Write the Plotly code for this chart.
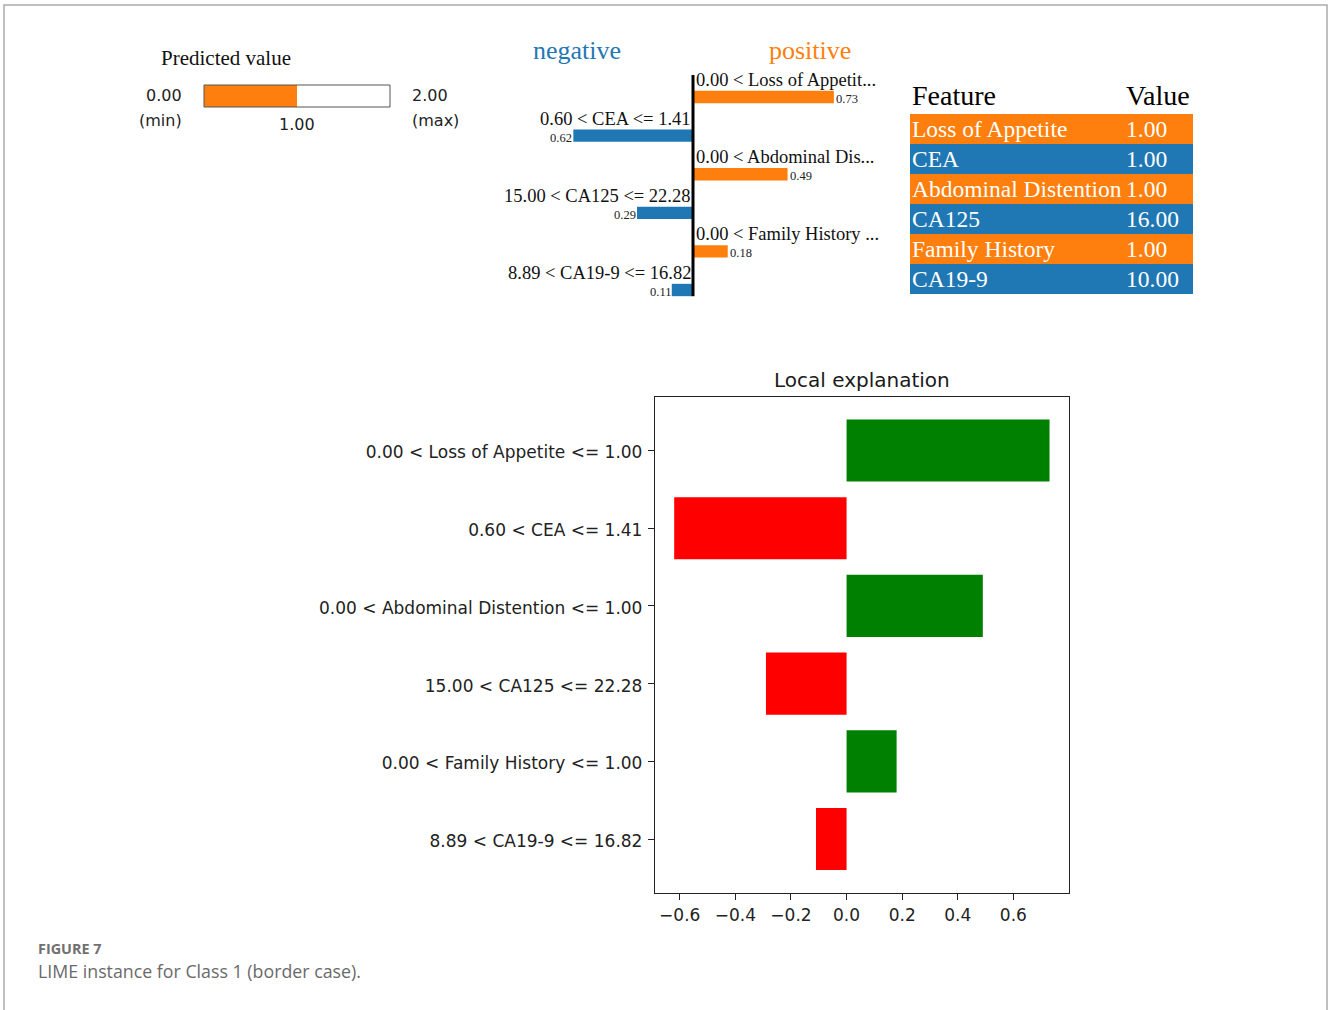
import plotly.graph_objects as go

# ---- data -------------------------------------------------------------
conditions = [
    "0.00 < Loss of Appetite <= 1.00",
    "0.60 < CEA <= 1.41",
    "0.00 < Abdominal Distention <= 1.00",
    "15.00 < CA125 <= 22.28",
    "0.00 < Family History <= 1.00",
    "8.89 < CA19-9 <= 16.82",
]
short_conditions = [
    "0.00 < Loss of Appetit...",
    "0.60 < CEA <= 1.41",
    "0.00 < Abdominal Dis...",
    "15.00 < CA125 <= 22.28",
    "0.00 < Family History ...",
    "8.89 < CA19-9 <= 16.82",
]
weights = [0.73, -0.62, 0.49, -0.29, 0.18, -0.11]

feature_names = ["Loss of Appetite", "CEA", "Abdominal Distention",
                 "CA125", "Family History", "CA19-9"]
feature_values = ["1.00", "1.00", "1.00", "16.00", "1.00", "10.00"]
table_header = ["Feature", "Value"]

pred_min, pred_max, pred_value = 0.0, 2.0, 1.0
main_ticks = [-0.6, -0.4, -0.2, 0.0, 0.2, 0.4, 0.6]

# ---- page geometry helpers ---------------------------------------------
W, H = 1328, 1010


def px_x(x):
    return x / W


def px_y(y):
    return 1 - y / H


ORANGE = "#ff7f0e"
BLUE = "#1f77b4"
SERIF = "Liberation Serif"
SANS = "DejaVu Sans"

fig = go.Figure()
idx = list(range(len(conditions)))

# ---- main "Local explanation" chart ------------------------------------
fig.add_trace(go.Bar(
    x=weights, y=idx, orientation="h", width=0.8,
    marker=dict(color=["#008000" if w > 0 else "#ff0000" for w in weights],
                line=dict(width=0)),
    xaxis="x", yaxis="y", showlegend=False, hoverinfo="skip",
))

# ---- LIME contribution bars (top middle) -------------------------------
fig.add_trace(go.Bar(
    x=weights, y=idx, orientation="h", width=0.32,
    marker=dict(color=[ORANGE if w > 0 else BLUE for w in weights],
                line=dict(width=0)),
    xaxis="x2", yaxis="y2", showlegend=False, hoverinfo="skip",
))

# ---- predicted value gauge ---------------------------------------------
fig.add_trace(go.Bar(
    x=[pred_value - pred_min], y=[0], base=[pred_min], orientation="h", width=1,
    marker=dict(color=ORANGE, line=dict(width=0)),
    xaxis="x3", yaxis="y3", showlegend=False, hoverinfo="skip",
))

# ---- feature / value table: one full-width band per row ----------------
row_colors = [ORANGE if w > 0 else BLUE for w in weights]
fig.add_trace(go.Bar(
    x=[1] * len(feature_names), y=idx, orientation="h", width=1,
    marker=dict(color=row_colors, line=dict(width=0)),
    xaxis="x4", yaxis="y4", showlegend=False, hoverinfo="skip",
))

annotations = []
shapes = []

VALUE_COL = 0.757  # left edge of the value column, as a share of table width
cell_font = dict(family=SERIF, size=23.5, color="white")
for i, (name, val) in enumerate(zip(feature_names, feature_values)):
    annotations.append(dict(text=name, x=0, y=i, xref="x4", yref="y4",
                            showarrow=False, xanchor="left", yanchor="middle",
                            font=cell_font))
    annotations.append(dict(text=val, x=VALUE_COL, y=i, xref="x4", yref="y4",
                            showarrow=False, xanchor="left", yanchor="middle",
                            font=cell_font))
for head, hx in zip(table_header, [910, 910 + VALUE_COL * 283]):
    annotations.append(dict(text=head, x=px_x(hx), y=px_y(96), xref="paper",
                            yref="paper", showarrow=False, xanchor="left",
                            yanchor="middle",
                            font=dict(family=SERIF, size=28, color="black")))

# main chart title
annotations.append(dict(text="Local explanation", x=px_x(862), y=px_y(380),
                        xref="paper", yref="paper", showarrow=False,
                        xanchor="center", yanchor="middle",
                        font=dict(family=SANS, size=20, color="#1a1a1a")))

# LIME bar labels
for i, (lab, w) in enumerate(zip(short_conditions, weights)):
    pos = w > 0
    annotations.append(dict(
        text=lab, x=0, y=i, xref="x2", yref="y2", showarrow=False,
        xanchor="left" if pos else "right", yanchor="middle",
        xshift=1 if pos else 0, yshift=17,
        font=dict(family=SERIF, size=18.5, color="#111"),
    ))
    annotations.append(dict(
        text=f"{abs(w):.2f}", x=w, y=i, xref="x2", yref="y2", showarrow=False,
        xanchor="left" if pos else "right", yanchor="middle",
        xshift=0 if pos else 1, yshift=-2,
        font=dict(family=SERIF, size=12.5, color="#222"),
    ))

annotations.append(dict(text="negative", x=px_x(577), y=px_y(50), xref="paper",
                        yref="paper", showarrow=False, xanchor="center",
                        yanchor="middle", font=dict(family=SERIF, size=26, color=BLUE)))
annotations.append(dict(text="positive", x=px_x(810), y=px_y(50), xref="paper",
                        yref="paper", showarrow=False, xanchor="center",
                        yanchor="middle", font=dict(family=SERIF, size=26, color=ORANGE)))

# LIME centre axis
shapes.append(dict(type="line", xref="x2", yref="y2", x0=0, x1=0,
                   y0=-0.57, y1=5.16, line=dict(color="black", width=3)))

# predicted value gauge labels and frame
annotations.append(dict(text="Predicted value", x=px_x(226), y=px_y(58),
                        xref="paper", yref="paper", showarrow=False,
                        xanchor="center", yanchor="middle",
                        font=dict(family=SERIF, size=21, color="#111")))
gauge_font = dict(family=SANS, size=16, color="#222")
for txt, x, y, anchor in [
    (f"{pred_min:.2f}", 184, 96, "right"),
    ("(min)", 184, 120, "right"),
    (f"{pred_max:.2f}", 410, 96, "left"),
    ("(max)", 410, 120, "left"),
]:
    annotations.append(dict(text=txt, x=px_x(x), y=px_y(y), xref="paper",
                            yref="paper", showarrow=False, xanchor=anchor,
                            yanchor="middle", font=gauge_font))
annotations.append(dict(text=f"{pred_value:.2f}", x=pred_value, y=px_y(124),
                        xref="x3", yref="paper", showarrow=False,
                        xanchor="center", yanchor="middle", font=gauge_font))
shapes.append(dict(type="rect", xref="x3 domain", yref="y3 domain",
                   x0=0, x1=1, y0=0, y1=1, line=dict(color="#555", width=1)))

# caption
annotations.append(dict(text="<b>FIGURE 7</b>", x=px_x(36), y=px_y(948),
                        xref="paper", yref="paper", showarrow=False,
                        xanchor="left", yanchor="middle",
                        font=dict(family="Open Sans", size=14.4, color="#707070")))
annotations.append(dict(text="LIME instance for Class 1 (border case).",
                        x=px_x(36), y=px_y(971), xref="paper", yref="paper",
                        showarrow=False, xanchor="left", yanchor="middle",
                        font=dict(family="Open Sans", size=17.8, color="#6a6a6a")))

# page frame
shapes.append(dict(type="rect", xref="paper", yref="paper",
                   x0=px_x(4), x1=px_x(1327), y0=-0.02, y1=px_y(5),
                   line=dict(color="#aaaaaa", width=1.5)))

axis_font = dict(family=SANS, size=17, color="#222")
fig.update_layout(
    width=W, height=H, autosize=False,
    margin=dict(l=0, r=0, t=0, b=0),
    paper_bgcolor="white", plot_bgcolor="white",
    annotations=annotations, shapes=shapes,
    xaxis=dict(domain=[px_x(655), px_x(1069)], range=[-0.689, 0.800],
               anchor="y", tickvals=main_ticks,
               ticktext=[f"{t:.1f}".replace("-", "\u2212") for t in main_ticks],
               ticks="outside", ticklen=6, tickcolor="#222", tickwidth=1,
               showline=True, linecolor="#222", linewidth=1.3, mirror=True,
               showgrid=False, zeroline=False, tickfont=axis_font),
    yaxis=dict(domain=[px_y(893), px_y(397)], range=[5.695, -0.689],
               anchor="x", tickvals=idx, ticktext=conditions,
               ticks="outside", ticklen=6, tickcolor="#222", tickwidth=1,
               ticklabelstandoff=2, ticklabelshift=-2,
               showline=True, linecolor="#222", linewidth=1.3, mirror=True,
               showgrid=False, zeroline=False, tickfont=axis_font),
    xaxis2=dict(domain=[px_x(500), px_x(886)], range=[-1, 1], anchor="y2",
                visible=False),
    yaxis2=dict(domain=[px_y(300), px_y(72)], range=[5.259, -0.648],
                anchor="x2", visible=False),
    xaxis3=dict(domain=[px_x(204), px_x(390)], range=[pred_min, pred_max],
                anchor="y3", visible=False),
    yaxis3=dict(domain=[px_y(107), px_y(85)], range=[-0.5, 0.5],
                anchor="x3", visible=False),
    xaxis4=dict(domain=[px_x(910), px_x(1193)], range=[0, 1], anchor="y4",
                visible=False),
    yaxis4=dict(domain=[px_y(294), px_y(114)], range=[5.5, -0.5],
                anchor="x4", visible=False),
)

fig.write_html("out.html")
